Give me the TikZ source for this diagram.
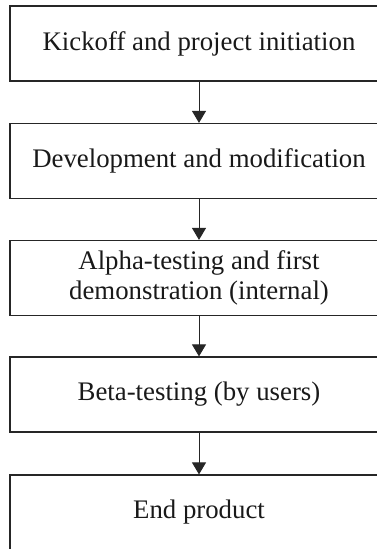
\documentclass[tikz,border=0pt]{standalone}
\usepackage{fontspec}
\setmainfont{Liberation Serif}
\usetikzlibrary{arrows.meta}
\begin{document}
\begin{tikzpicture}[x=1pt,y=-1pt,
  stagebox/.style={draw=black!85, line width=1.2pt, minimum width=378pt, minimum height=75pt,
    inner sep=0pt, align=center, font=\fontsize{26.8}{30}\selectfont, text=black!90},
  flow/.style={draw=black!85, line width=1pt, -{Triangle[width=14pt,length=12pt]}}]
  \useasboundingbox (0,0) rectangle (377,549);
  \clip (0,0) rectangle (377,549);
  \node[stagebox] (kick)  at (199,43.5)  {Kickoff and project initiation};
  \node[stagebox] (dev)   at (199,161)   {Development and modification};
  \node[stagebox] (alpha) at (199,278)   {Alpha-testing and first\\demonstration (internal)};
  \node[stagebox] (beta)  at (199,394.5) {Beta-testing (by users)};
  \node[stagebox] (final) at (199,512.5) {End product};
  \draw[flow] (kick)  -- (dev);
  \draw[flow] (dev)   -- (alpha);
  \draw[flow] (alpha) -- (beta);
  \draw[flow] (beta)  -- (final);
\end{tikzpicture}
\end{document}
